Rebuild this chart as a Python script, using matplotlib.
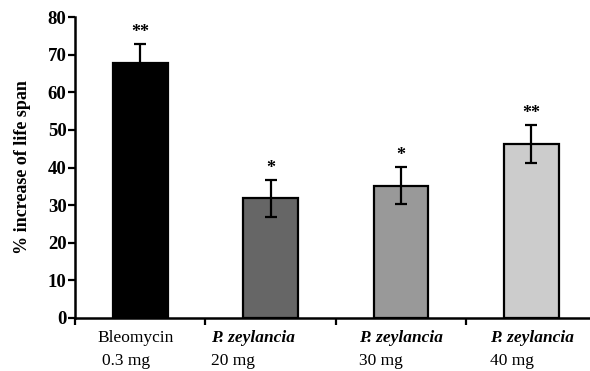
import matplotlib.pyplot as plt

groups = ["Bleomycin", "P. zeylancia", "P. zeylancia", "P. zeylancia"]
doses = ["0.3 mg", "20 mg", "30 mg", "40 mg"]
means = [67.8, 31.8, 35.2, 46.2]
errors = [5.0, 5.0, 5.0, 5.0]
stars = ["**", "*", "*", "**"]
colors = ["#000000", "#666666", "#999999", "#cccccc"]

plt.rcParams["font.family"] = "Liberation Serif"

fig = plt.figure(figsize=(5.9, 3.71), dpi=100)
ax = fig.add_axes([0.127, 0.143, 0.873, 0.811])

x = list(range(len(means)))
ax.bar(x, means, width=0.42, color=colors, edgecolor="black", linewidth=1.6, zorder=2)
ax.errorbar(x, means, yerr=errors, fmt="none", ecolor="black", elinewidth=1.6,
            capsize=4, capthick=1.6, zorder=3)
for xi, m, e, s in zip(x, means, errors, stars):
    ax.text(xi, m + e + 0.8, s, ha="center", va="bottom", fontsize=13, fontweight="bold")

ax.set_xlim(-0.5, 3.45)
ax.set_ylim(0, 80)
ax.set_yticks(range(0, 81, 10))
ax.tick_params(axis="y", labelsize=13.5, width=1.6, length=5, pad=1)
for lbl in ax.get_yticklabels():
    lbl.set_fontweight("bold")

ax.set_xticks([-0.5, 0.5, 1.5, 2.5])
ax.set_xticklabels([])
ax.tick_params(axis="x", width=1.6, length=5)

for side in ["top", "right"]:
    ax.spines[side].set_visible(False)
for side in ["left", "bottom"]:
    ax.spines[side].set_linewidth(1.8)

# two-line category labels, left-aligned under each bar
name_off = [-0.33, -0.46, -0.32, -0.32]
dose_off = [-0.29, -0.46, -0.32, -0.32]
for xi, no, do, g, d in zip(x, name_off, dose_off, groups, doses):
    italic = g.startswith("P.")
    ax.text(xi + no, -3.2, g, ha="left", va="top", fontsize=12.5,
            style="italic" if italic else "normal",
            fontweight="bold" if italic else "normal", clip_on=False)
    ax.text(xi + do, -9.2, d, ha="left", va="top", fontsize=12.5, clip_on=False)

ax.set_ylabel("% increase of life span", fontsize=13, fontweight="bold", labelpad=12)

fig.savefig("out.png", dpi=100)
